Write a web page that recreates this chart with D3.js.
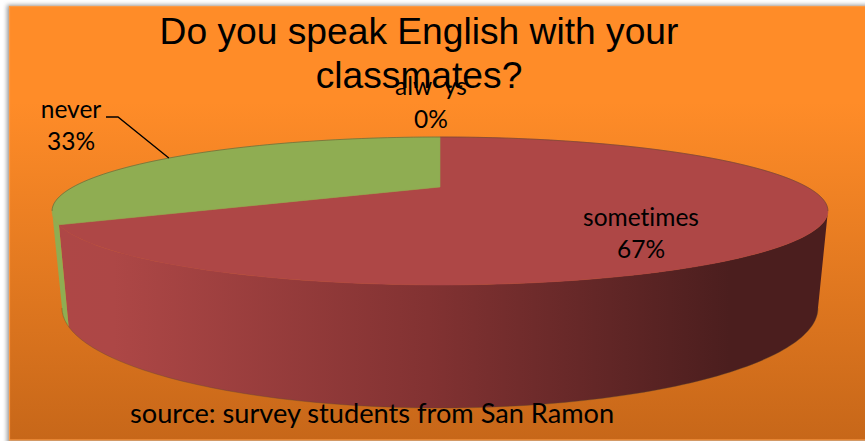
<!DOCTYPE html>
<html>
<head>
<meta charset="utf-8">
<script src="https://d3js.org/d3.v7.min.js"></script>
<style>
    html, body { margin: 0; padding: 0; background: #fff; }
    svg { display: block; }
    text { font-variant-ligatures: none; }
</style>
</head>
<body>
<div id="chart"></div>
<script>
const categories = ["always", "sometimes", "never"];
const shares = [0, 67, 33];
const sliceColors = ["#4f81bd", "#ae4746", "#8fad52"];
const titleLines = ["Do you speak English with your", "classmates?"];
const sourceNote = "source: survey students from San Ramon";

const width = 865, height = 441;

const svg = d3.select("#chart")
    .append("svg")
    .attr("width", width)
    .attr("height", height);

const defs = svg.append("defs");

const bgGradient = defs.append("linearGradient")
    .attr("id", "bg")
    .attr("x1", "0%").attr("x2", "0%")
    .attr("y1", "0%").attr("y2", "100%");
bgGradient.selectAll("stop")
    .data([
        { offset: "0%", color: "#ff8c28" },
        { offset: "22%", color: "#ff8c28" },
        { offset: "100%", color: "#c76719" }
    ])
    .enter().append("stop")
    .attr("offset", d => d.offset)
    .attr("stop-color", d => d.color);

const wallGradient = defs.append("linearGradient")
    .attr("id", "wall")
    .attr("gradientUnits", "userSpaceOnUse")
    .attr("x1", 60).attr("x2", 730)
    .attr("y1", 0).attr("y2", 0);
wallGradient.selectAll("stop")
    .data([
        { offset: "0%", color: "#ae4746" },
        { offset: "8%", color: "#ad4746" },
        { offset: "55%", color: "#823232" },
        { offset: "100%", color: "#4b1e1e" }
    ])
    .enter().append("stop")
    .attr("offset", d => d.offset)
    .attr("stop-color", d => d.color);

const shadow = defs.append("filter")
    .attr("id", "panel-shadow")
    .attr("x", "-2%").attr("y", "-2%")
    .attr("width", "104%").attr("height", "104%");
shadow.append("feGaussianBlur").attr("stdDeviation", 2);

svg.append("rect")
    .attr("x", 7).attr("y", 5)
    .attr("width", width).attr("height", height)
    .attr("fill", "#999")
    .attr("filter", "url(#panel-shadow)");

svg.append("rect")
    .attr("x", 9.5).attr("y", 6.5)
    .attr("width", width).attr("height", height - 7.5)
    .attr("fill", "url(#bg)")
    .attr("stroke", "#fb9a45")
    .attr("stroke-width", 1.2);

// perspective: the disc leans back, so the far half looks shorter than the near half
const tilt = -0.324;
const topRim = { cx: 440, cy: 187, a: 367, b: 66.2 };
const bottomRim = { cx: 440, cy: 275.6, a: 357.6, b: 89.5 };

const project = (rim, angle) => {
    const u = Math.sin(angle), v = -Math.cos(angle);
    const w = 1 + tilt * v;
    return [rim.cx + rim.a * u / w, rim.cy + rim.b * v / w];
};

const pie = d3.pie().value(d => d).sort(null);
const slices = pie(shares);

// angles where the side wall stops being visible
const wallStart = Math.acos(tilt);
const wallEnd = 2 * Math.PI - wallStart;

const arcPoints = (rim, a0, a1) => d3.range(0, 121).map(i => project(rim, a0 + (a1 - a0) * i / 120));
const line = d3.line();
const rimStroke = "#5d4a2a";

// side walls, back to front
slices.forEach((s, i) => {
    const a0 = Math.max(s.startAngle, wallStart);
    const a1 = Math.min(s.endAngle, wallEnd);
    if (a1 <= a0) return;
    const top = arcPoints(topRim, a0, a1);
    const bottom = arcPoints(bottomRim, a1, a0);
    svg.append("path")
        .attr("d", line(top.concat(bottom)) + "Z")
        .attr("fill", categories[i] === "sometimes" ? "url(#wall)" : sliceColors[i]);
    svg.append("path")
        .attr("d", line(bottom))
        .attr("fill", "none")
        .attr("stroke", rimStroke)
        .attr("stroke-width", 0.6)
        .attr("stroke-opacity", 0.6);
});

// top face, stroked in its own colour so no background shows at the seam
slices.forEach((s, i) => {
    if (s.endAngle === s.startAngle) return;
    const pts = [[topRim.cx, topRim.cy]].concat(arcPoints(topRim, s.startAngle, s.endAngle));
    svg.append("path")
        .attr("d", line(pts) + "Z")
        .attr("fill", sliceColors[i])
        .attr("stroke", sliceColors[i])
        .attr("stroke-width", 0.6);
});

// outline only along the far edge, the near edge has none
svg.append("path")
    .attr("d", line(arcPoints(topRim, wallEnd, 2 * Math.PI + wallStart)))
    .attr("fill", "none")
    .attr("stroke", rimStroke)
    .attr("stroke-width", 0.7)
    .attr("stroke-opacity", 0.7);

// leader for the "never" label goes to the middle of its slice
const neverSlice = slices[categories.indexOf("never")];
const leaderEnd = project(topRim, (neverSlice.startAngle + neverSlice.endAngle) / 2);
svg.append("path")
    .attr("d", line([[106, 117], [118, 117], leaderEnd]))
    .attr("fill", "none")
    .attr("stroke", "#000")
    .attr("stroke-width", 1.3);

const labelFont = "Lato, 'Open Sans', sans-serif";

const dataLabels = [
    { i: 0, x: 431, y1: 95, y2: 128 },
    { i: 1, x: 641, y1: 226, y2: 258 },
    { i: 2, x: 71, y1: 118, y2: 150 }
];
dataLabels.forEach(d => {
    const g = svg.append("g")
        .attr("font-family", labelFont)
        .attr("font-size", 24.5)
        .attr("fill", "#000")
        .attr("text-anchor", "middle");
    const name = g.append("text").attr("x", d.x).attr("y", d.y1);
    if (categories[d.i] === "always") {
        // the first "a" after the w is lost behind the title in the original
        name.append("tspan").text("alw");
        name.append("tspan").attr("fill-opacity", 0).text("a");
        name.append("tspan").text("ys");
    } else {
        name.text(categories[d.i]);
    }
    g.append("text").attr("x", d.x).attr("y", d.y2).text(shares[d.i] + "%");
});

svg.selectAll(".title")
    .data(titleLines)
    .enter().append("text")
    .attr("class", "title")
    .attr("x", 419)
    .attr("y", (d, i) => 44 + i * 43.5)
    .attr("text-anchor", "middle")
    .attr("font-family", "'Liberation Sans', Arial, sans-serif")
    .attr("font-size", 37.2)
    .attr("fill", "#000")
    .text(d => d);

svg.append("text")
    .attr("x", 130)
    .attr("y", 423)
    .attr("font-family", labelFont)
    .attr("font-size", 27.2)
    .attr("fill", "#000")
    .text(sourceNote);
</script>
</body>
</html>
